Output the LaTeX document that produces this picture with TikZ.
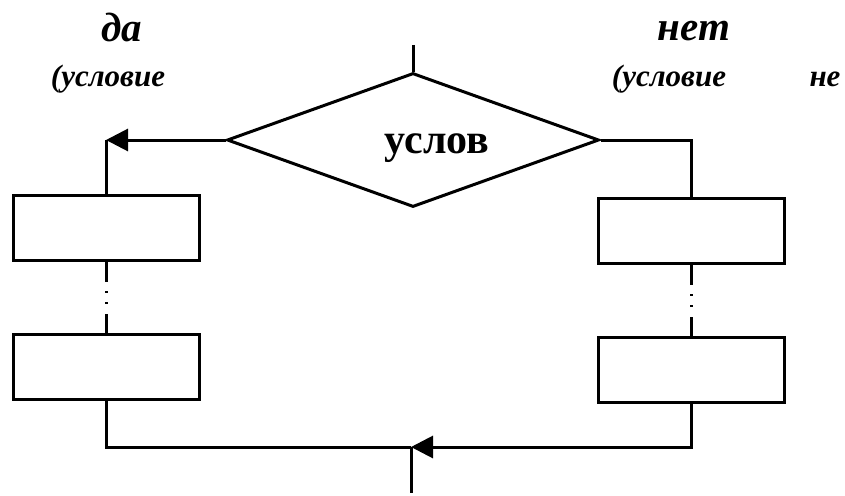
\documentclass[tikz,border=0pt]{standalone}
\usepackage{fontspec}
\setmainfont{Liberation Serif}
\usetikzlibrary{arrows.meta,shapes.geometric,positioning}
\tikzset{
  blk/.style={draw, rectangle, line width=3pt, minimum width=186pt, minimum height=65pt, inner sep=0pt},
  cond/.style={draw, diamond, line width=3pt, minimum width=372pt, minimum height=134pt, inner sep=0pt},
  condtxt/.style={anchor=base, inner sep=0pt, font=\fontsize{42}{46}\selectfont\bfseries},
  line/.style={line width=3pt},
  arr/.style={line width=3pt, -{Triangle[length=22pt,width=22pt]}},
  dots/.style={line width=3pt, dash pattern=on 20pt off 9pt on 2pt off 9pt on 2pt off 10pt on 22pt},
  big/.style={font=\fontsize{41}{44}\selectfont\bfseries\itshape},
  small/.style={font=\fontsize{31}{36}\selectfont\bfseries\itshape}
}
\begin{document}
\begin{tikzpicture}[x=1pt,y=-1pt]
        \useasboundingbox (0,0) rectangle (845,495);
        \node[cond] (test) at (413,140) {};
        \node[condtxt] (testtxt) at (437,153) {услов};
        \node[blk] (yes1) at (106,228) {};
        \node[blk] (yes2) at (106,367) {};
        \node[blk] (no1) at (691,231) {};
        \node[blk] (no2) at (691,370) {};

        \coordinate (entry) at (413,45);
        \coordinate (ycorner) at (106,140);
        \coordinate (ncorner) at (691,140);
        \coordinate (join) at (411,447);
        \coordinate (exit) at (411,493);

        \draw[line] (entry) -- (test.north);
        \draw[arr] (test.west) -- (ycorner);
        \draw[line] (ycorner) -- (yes1.north);
        \draw[line] (test.east) -| (no1.north);
        \draw[dots] (yes1.south) -- (yes2.north);
        \draw[dots] (no1.south) -- (no2.north);
        \draw[line] (yes2.south) |- (join);
        \draw[arr] (no2.south) |- (join);
        \draw[line] (join) -- (exit);

        \node[big] (ylab) at (122,27) {да};
        \node[small] (ynote) at (108,79) {(условие};
        \node[big] (nlab) at (694,31) {нет};
        \node[small] (nnote) at (669,79) {(условие};
        \node[small] (nnot) at (825,79) {не};
    \end{tikzpicture}
\end{document}
